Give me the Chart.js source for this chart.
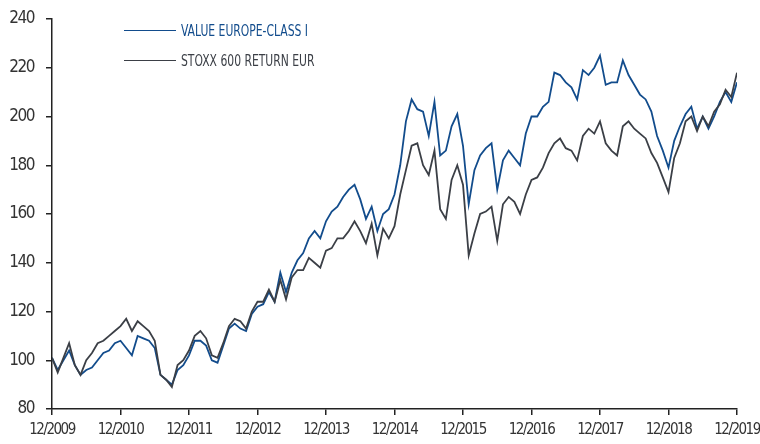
<!DOCTYPE html>
<html>
<head>
<meta charset="utf-8">
<script src="https://cdn.jsdelivr.net/npm/chart.js@4.4.1/dist/chart.umd.min.js"></script>
<style>
    html, body { margin: 0; padding: 0; background: #fff; }
    #wrap { position: relative; width: 760px; height: 444px; }
    #legend { position: absolute; left: 124px; top: 20px; font-family: "Liberation Sans Narrow", "DejaVu Sans Condensed", sans-serif; font-size: 16px; }
    .item { display: flex; align-items: center; height: 20px; margin-bottom: 10px; white-space: nowrap; }
    .swatch { width: 52px; height: 0; border-top: 1.5px solid; margin-right: 5px; }
    .name { display: inline-block; transform: scaleX(0.75); transform-origin: left center; }
</style>
</head>
<body>
<div id="wrap">
    <canvas id="chart" width="760" height="444"></canvas>
    <div id="legend"></div>
</div>
<script>
// months since 12/2009, one point per month
const fundName = "VALUE EUROPE-CLASS I";
const indexName = "STOXX 600 RETURN EUR";
const tickLabels = ["12/2009","12/2010","12/2011","12/2012","12/2013","12/2014","12/2015","12/2016","12/2017","12/2018","12/2019"];

const fund = [
    101, 96, 100, 104, 98, 94, 96, 97, 100, 103, 104, 107,
    108, 105, 102, 110, 109, 108, 105, 94, 92, 90, 96, 98,
    102, 108, 108, 106, 100, 99, 106, 113, 115, 113, 112, 119,
    122, 123, 128, 124, 136, 128, 136, 141, 144, 150, 153, 150,
    157, 161, 163, 167, 170, 172, 166, 158, 163, 153, 160, 162,
    168, 180, 198, 207, 203, 202, 192, 206, 184, 186, 196, 201,
    188, 164, 178, 184, 187, 189, 170, 182, 186, 183, 180, 193,
    200, 200, 204, 206, 218, 217, 214, 212, 207, 219, 217, 220,
    225, 213, 214, 214, 223, 217, 213, 209, 207, 202, 192, 186,
    179, 190, 196, 201, 204, 195, 200, 195, 200, 206, 210, 206,
    214
];

const stoxx = [
    101, 95, 101, 107, 98, 94, 100, 103, 107, 108, 110, 112,
    114, 117, 112, 116, 114, 112, 108, 94, 92, 89, 98, 100,
    104, 110, 112, 109, 102, 101, 107, 114, 117, 116, 113, 120,
    124, 124, 129, 124, 133, 125, 134, 137, 137, 142, 140, 138,
    145, 146, 150, 150, 153, 157, 153, 148, 156, 143, 154, 150,
    155, 168, 178, 188, 189, 180, 176, 186, 162, 158, 174, 180,
    172, 143, 152, 160, 161, 163, 149, 164, 167, 165, 160, 168,
    174, 175, 179, 185, 189, 191, 187, 186, 182, 192, 195, 193,
    198, 189, 186, 184, 196, 198, 195, 193, 191, 185, 181, 175,
    169, 183, 189, 198, 200, 194, 200, 196, 202, 205, 211, 208,
    218
];

const blue = "#124c8c";
const grey = "#3b3f46";
const axisColor = "#222222";
const fontFamily = '"Liberation Sans Narrow", "DejaVu Sans Condensed", sans-serif';

function toPoints(values){
    return values.map((v, i) => ({x: i, y: v}));
}

// tighter text on the canvas so the tick labels look condensed
const tightText = {
    id: "tightText",
    beforeUpdate: (c) => { c.ctx.letterSpacing = "-1.5px"; },
    beforeDraw: (c) => { c.ctx.letterSpacing = "-1.5px"; }
};

let chart = new Chart(document.getElementById("chart"), {
    type: "line",
    plugins: [tightText],
    data: {
        datasets: [
            { label: indexName, data: toPoints(stoxx), borderColor: grey, borderWidth: 1.8, pointRadius: 0, tension: 0 },
            { label: fundName, data: toPoints(fund), borderColor: blue, borderWidth: 1.8, pointRadius: 0, tension: 0 }
        ]
    },
    options: {
        responsive: false,
        animation: false,
        layout: { padding: { left: 4, right: 23, top: 19, bottom: 0 } },
        plugins: { legend: { display: false }, tooltip: { enabled: false } },
        scales: {
            x: {
                type: "linear",
                min: 0,
                max: 120,
                afterFit: (s) => { s.height = 35; s.paddingLeft = 0; s.paddingRight = 0; },
                afterBuildTicks: (s) => { s.ticks = tickLabels.map((t, i) => ({value: i * 12})); },
                ticks: {
                    autoSkip: false,
                    maxRotation: 0,
                    padding: 6,
                    color: "#333",
                    font: { family: fontFamily, size: 15 },
                    callback: (v) => tickLabels[v / 12]
                },
                grid: { drawOnChartArea: false, drawTicks: true, tickLength: 6, color: axisColor, lineWidth: 1.5 },
                border: { color: axisColor, width: 1.5 }
            },
            y: {
                min: 80,
                max: 240,
                afterFit: (s) => { s.width = 48; s.paddingTop = 0; s.paddingBottom = 0; },
                ticks: {
                    stepSize: 20,
                    padding: 12,
                    color: "#333",
                    font: { family: fontFamily, size: 17 }
                },
                grid: { drawOnChartArea: false, drawTicks: true, tickLength: 6, color: axisColor, lineWidth: 1.5 },
                border: { color: axisColor, width: 1.5 }
            }
        }
    }
});

// legend as html text
const legend = document.getElementById("legend");
[[fundName, blue], [indexName, grey]].forEach(([name, color]) => {
    const row = document.createElement("div");
    row.className = "item";
    row.innerHTML = '<span class="swatch" style="border-color:' + color + '"></span><span class="name" style="color:' + color + '">' + name + '</span>';
    legend.appendChild(row);
});
</script>
</body>
</html>
